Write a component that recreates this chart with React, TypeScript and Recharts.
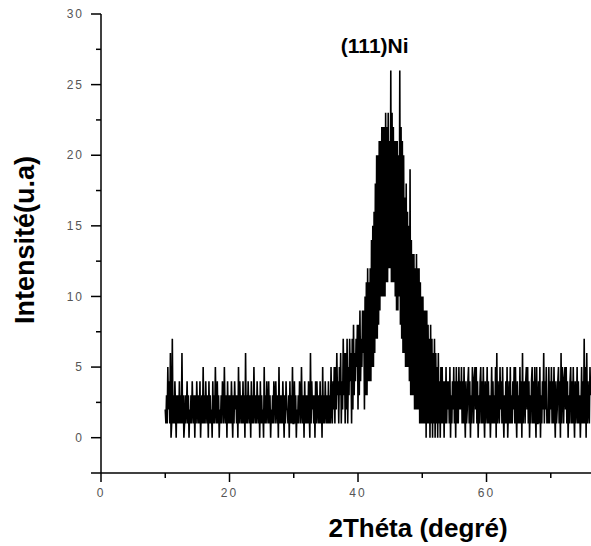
import React from "react";
import { LineChart, Line, XAxis, YAxis, ReferenceDot } from "recharts";

// XRD scan: 2θ from 10° in 0.1° steps, intensity counts one char per point
// (0-9 then a=10, b=11 ... q=26)
const START_2THETA = 10.0;
const STEP_2THETA = 0.1;

const baselineLeft = [
  "2131524160", "1713142031", "3141316130", "1312413021", "3142130314",
  "2131402315", "1314213041", "3120413152", "1413021314", "3152130413",
  "1314203142", "3130514213", "1413061314", "2130413152", "1314213041",
  "3120513142", "1413021314", "3142130513", "1314203142", "2130413151",
  "1413021314", "3152130413", "1314206142", "3130414213", "1413051314",
  "2131413152",
];

const peak111 = [
  "1425152634", "1536142736", "1627153746", "1728364758", "2839475969",
  "2a3b3c4b4c", "4e5f5g6i7k", "7k8l9lamam", "amanbmbncl", "cqbnbmblal",
  "9l9kaq8m7l", "6k6h5i5g5f", "4j3e3d3d2c", "2d2c2c1b1a", "1a19190918",
  "1708170617", "0615061405",
];

const baselineRight = [
  "1514041514", "2415031425", "1405141524", "2514152041", "2451403154",
  "1452514031", "4514152041", "2514130251", "4131506142", "1524152031",
  "4150241513", "1425152041", "3151406134", "1452514031", "4514152051",
  "1415031426", "1425121514", "2514152041", "2451406154", "1452514031",
  "4514152041", "2514130251", "4171506142", "153",
];

const xTicks = [0, 10, 20, 30, 40, 50, 60, 70];
const yTicks = [-2.5, 0, 2.5, 5, 7.5, 10, 12.5, 15, 17.5, 20, 22.5, 25, 27.5, 30];

const counts = [...baselineLeft, ...peak111, ...baselineRight]
  .join("")
  .split("")
  .map((c) => parseInt(c, 36));

const data = counts.map((v, i) => ({
  t: +(START_2THETA + i * STEP_2THETA).toFixed(1),
  v,
}));

const FONT = "Arial, 'Liberation Sans', sans-serif";

const XTick = (props: any) => {
  const { x, y, payload } = props;
  const major = payload.value % 20 === 0;
  return (
    <g>
      <line x1={x} y1={y} x2={x} y2={y + (major ? 9 : 5)} stroke="#000" strokeWidth={1.5} />
      {major && (
        <text x={x} y={y + 24} textAnchor="middle" fontSize={12} letterSpacing={2} fill="#555" fontFamily={FONT}>
          {payload.value}
        </text>
      )}
    </g>
  );
};

const YTick = (props: any) => {
  const { x, y, payload } = props;
  const v = payload.value;
  const major = v % 5 === 0 || v < 0;
  return (
    <g>
      <line x1={x} y1={y} x2={x - (major ? 10 : 5)} y2={y} stroke="#000" strokeWidth={1.5} />
      {v >= 0 && v % 5 === 0 && (
        <text x={x - 17} y={y} dy="0.35em" textAnchor="end" fontSize={12} letterSpacing={2} fill="#555" fontFamily={FONT}>
          {v}
        </text>
      )}
    </g>
  );
};

export default function App() {
  return (
    <div style={{ position: "absolute", left: 0, top: 0, width: 591, height: 546, background: "#fff" }}>
      <LineChart width={591} height={546} data={data} margin={{ top: 14, right: 0, bottom: 0, left: 0 }}>
        <XAxis
          dataKey="t"
          type="number"
          domain={[0, 76.26]}
          allowDataOverflow
          ticks={xTicks}
          tick={<XTick />}
          tickSize={0}
          tickMargin={0}
          height={73}
          axisLine={{ stroke: "#000", strokeWidth: 1.5 }}
          label={() => (
            <text x={418} y={528} dy="0.35em" textAnchor="middle" fontSize={26} fontWeight="bold" fill="#000" fontFamily={FONT}>
              2Théta (degré)
            </text>
          )}
        />
        <YAxis
          type="number"
          domain={[-2.5, 30]}
          allowDataOverflow
          ticks={yTicks}
          tick={<YTick />}
          tickSize={0}
          tickMargin={0}
          width={101}
          axisLine={{ stroke: "#000", strokeWidth: 1.5 }}
          label={() => (
            <text
              x={25}
              y={240}
              dy="0.35em"
              textAnchor="middle"
              transform="rotate(-90 25 240)"
              fontSize={27}
              fontWeight="bold"
              fill="#000"
              fontFamily={FONT}
            >
              Intensité(u.a)
            </text>
          )}
        />
        <Line
          type="linear"
          dataKey="v"
          stroke="#000"
          strokeWidth={1.6}
          dot={false}
          isAnimationActive={false}
        />
        <ReferenceDot
          x={42.6}
          y={27.8}
          r={0}
          fill="none"
          stroke="none"
          label={{ value: "(111)Ni", position: "center", fontSize: 21, fontWeight: "bold", fill: "#000", fontFamily: FONT }}
        />
      </LineChart>
    </div>
  );
}
